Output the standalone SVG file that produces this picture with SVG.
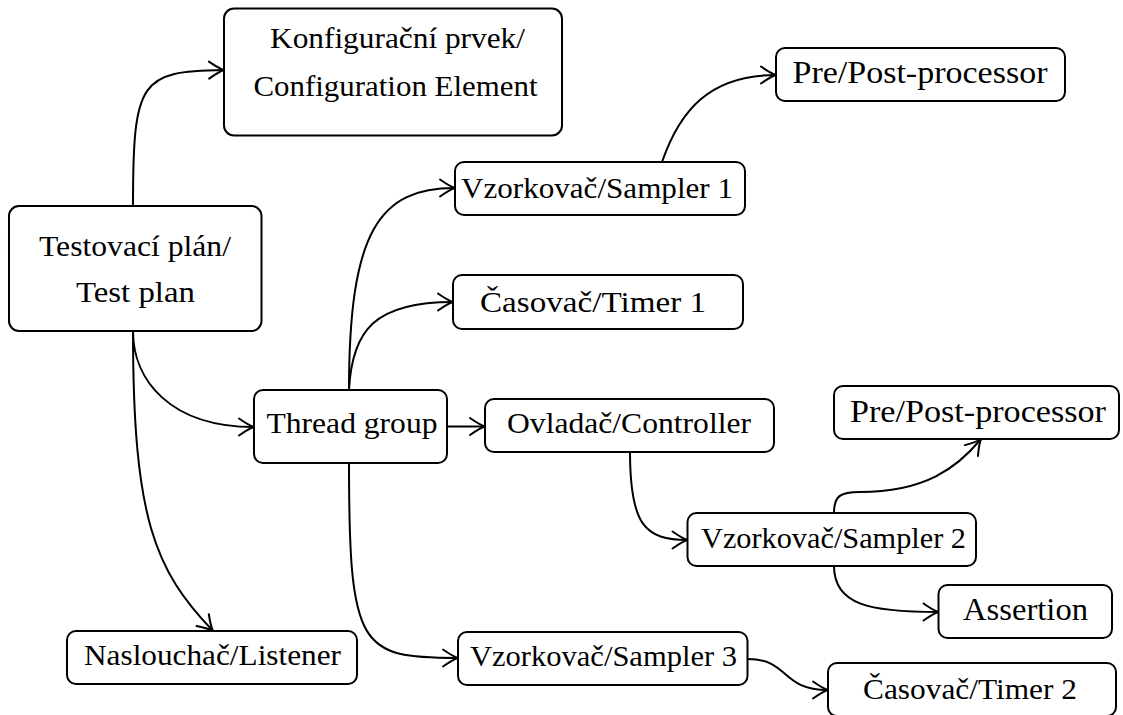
<svg xmlns="http://www.w3.org/2000/svg" width="1123" height="715" viewBox="0 0 1123 715">
<defs>
<style>
.box{fill:#fff;stroke:#000;stroke-width:2}
.t{font-family:"Liberation Serif","DejaVu Serif","Times New Roman",serif;font-size:29px;fill:#000;text-anchor:middle}
.tl{font-family:"Liberation Serif","DejaVu Serif","Times New Roman",serif;font-size:31px;fill:#000;text-anchor:middle}
.c{fill:none;stroke:#000;stroke-width:2;marker-end:url(#arr)}
</style>
<marker id="arr" markerUnits="userSpaceOnUse" viewBox="-18 -11 20 22" refX="0" refY="0" markerWidth="20" markerHeight="22" orient="auto" overflow="visible">
<path d="M-15,-8.5 Q-5,-1.5 0,0 Q-5,1.5 -15,8.5" fill="none" stroke="#000" stroke-width="2" stroke-linecap="round"/>
</marker>
</defs>
<rect width="1123" height="715" fill="#fff"/>
<g id="connectors">
<path class="c" d="M133,206 C133,80 140,71 224,70"/>
<path class="c" d="M133,331 C133,380 170,427 254,427"/>
<path class="c" d="M133,331 C133,520 155,570 213,631"/>
<path class="c" d="M349,390 C349,230 380,188 455,188"/>
<path class="c" d="M349,390 C352,330 375,302 453,302"/>
<path class="c" d="M447,426.5 L485,426.5"/>
<path class="c" d="M349,463 C349,650 360,658 458,658"/>
<path class="c" d="M662,162 C680,110 710,75 776,75"/>
<path class="c" d="M630,452 C630,525 645,540 687.5,540"/>
<path class="c" d="M834,513 C834,496 840,492 860,492 C925,492 957,468 981,439"/>
<path class="c" d="M834,566 C834,605 870,612 938.5,612"/>
<path class="c" d="M747.5,659 C790,659 780,690 828,690"/>
</g>
<g id="konfig">
<rect class="box" x="224" y="8.5" width="338" height="127" rx="10"/>
<text class="t" x="397.5" y="48" textLength="255" lengthAdjust="spacingAndGlyphs">Konfigurační prvek/</text>
<text class="t" x="395.5" y="96" textLength="284" lengthAdjust="spacingAndGlyphs">Configuration Element</text>
</g>
<g id="testplan">
<rect class="box" x="9" y="206" width="252.5" height="125" rx="10"/>
<text class="t" x="135" y="255.5" textLength="192" lengthAdjust="spacingAndGlyphs">Testovací plán/</text>
<text class="t" x="135.5" y="301.5" textLength="119" lengthAdjust="spacingAndGlyphs">Test plan</text>
</g>
<g id="sampler1">
<rect class="box" x="455" y="162" width="290" height="53" rx="9"/>
<text class="t" x="597" y="198" textLength="272" lengthAdjust="spacingAndGlyphs">Vzorkovač/Sampler 1</text>
</g>
<g id="timer1">
<rect class="box" x="453" y="275" width="290" height="54" rx="9"/>
<text class="t" x="593" y="312" textLength="226" lengthAdjust="spacingAndGlyphs">Časovač/Timer 1</text>
</g>
<g id="prepost1">
<rect class="box" x="776" y="48" width="289" height="53" rx="9"/>
<text class="tl" x="920" y="83" textLength="255" lengthAdjust="spacingAndGlyphs">Pre/Post-processor</text>
</g>
<g id="threadgroup">
<rect class="box" x="254" y="390" width="193" height="73" rx="9"/>
<text class="t" x="352" y="433" textLength="171" lengthAdjust="spacingAndGlyphs">Thread group</text>
</g>
<g id="controller">
<rect class="box" x="485" y="399" width="289" height="53" rx="9"/>
<text class="t" x="629" y="433" textLength="244" lengthAdjust="spacingAndGlyphs">Ovladač/Controller</text>
</g>
<g id="prepost2">
<rect class="box" x="834" y="386" width="285" height="53" rx="9"/>
<text class="tl" x="978" y="422" textLength="256" lengthAdjust="spacingAndGlyphs">Pre/Post-processor</text>
</g>
<g id="sampler2">
<rect class="box" x="687.5" y="513" width="288.5" height="53" rx="9"/>
<text class="t" x="833.5" y="548" textLength="265" lengthAdjust="spacingAndGlyphs">Vzorkovač/Sampler 2</text>
</g>
<g id="assertion">
<rect class="box" x="938.5" y="585" width="173.5" height="53" rx="9"/>
<text class="tl" x="1025.5" y="620" textLength="125" lengthAdjust="spacingAndGlyphs">Assertion</text>
</g>
<g id="listener">
<rect class="box" x="67" y="631" width="290" height="53" rx="9"/>
<text class="t" x="212.5" y="665" textLength="257" lengthAdjust="spacingAndGlyphs">Naslouchač/Listener</text>
</g>
<g id="sampler3">
<rect class="box" x="458" y="632" width="289.5" height="53" rx="9"/>
<text class="t" x="603.5" y="666" textLength="267" lengthAdjust="spacingAndGlyphs">Vzorkovač/Sampler 3</text>
</g>
<g id="timer2">
<rect class="box" x="828" y="663" width="288" height="53" rx="9"/>
<text class="t" x="970" y="699" textLength="214" lengthAdjust="spacingAndGlyphs">Časovač/Timer 2</text>
</g>
</svg>
